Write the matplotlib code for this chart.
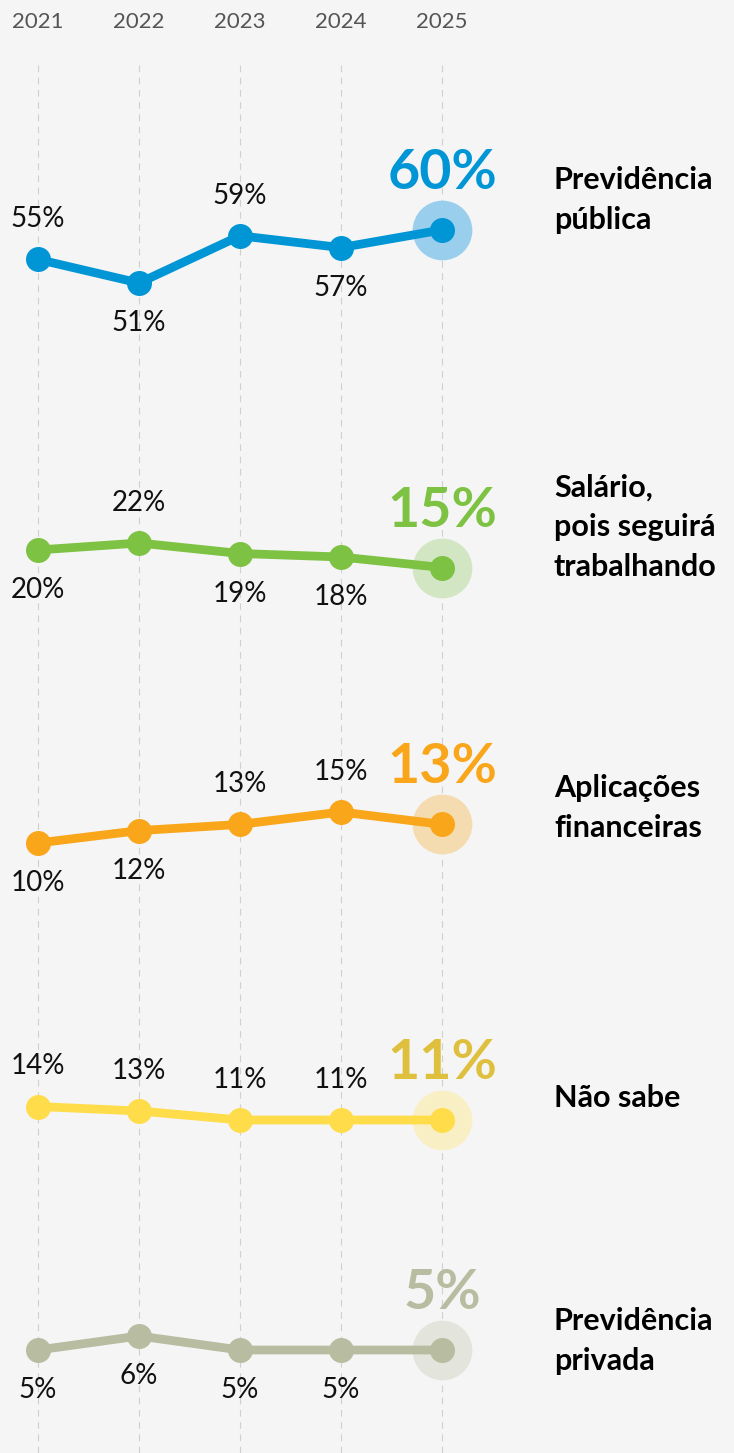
import matplotlib
matplotlib.use("Agg")
import matplotlib.pyplot as plt

# figure size in pixels
W, H = 734, 1453
DPI = 100

years = [2021, 2022, 2023, 2024, 2025]
categories = ["Previdência\npública",
              "Salário,\npois seguirá\ntrabalhando",
              "Aplicações\nfinanceiras",
              "Não sabe",
              "Previdência\nprivada"]
prev_publica = [55, 51, 59, 57, 60]
salario = [20, 22, 19, 18, 15]
aplicacoes = [10, 12, 13, 15, 13]
nao_sabe = [14, 13, 11, 11, 11]
prev_privada = [5, 6, 5, 5, 5]
series = [prev_publica, salario, aplicacoes, nao_sabe, prev_privada]

# styling per series
line_colors = ["#0096d6", "#7dc242", "#f9a61a", "#ffdd4a", "#b8bca0"]
halo_colors = ["#99cfec", "#d3e6c3", "#f5dcb0", "#f8efc4", "#e3e4db"]
big_colors = ["#0096d6", "#7dc242", "#f9a61a", "#dfc03e", "#b8bca0"]
# 1 = value label above the point, -1 = below (last point uses the big label)
sides = [[1, -1, 1, -1], [-1, 1, -1, -1], [-1, -1, 1, 1], [1, 1, 1, 1], [-1, -1, -1, -1]]
# vertical placement: (anchor value, anchor pixel row, pixels per point)
bands = [(51, 283, 5.9), (18, 557, 3.5), (10, 843, 6.2), (11, 1120, 4.5), (5, 1350, 14)]
# vertical centre of the category names (pixel rows)
cat_rows = [200, 527, 808, 1098, 1341]

FONT = "Lato"
BG = "#f5f5f5"
plt.rcParams["font.family"] = [FONT, "DejaVu Sans"]

fig = plt.figure(figsize=(W / DPI, H / DPI), dpi=DPI)
fig.patch.set_facecolor(BG)

# x axis: 2021 at px 38, one year every 101 px
x0 = years[0] - 38 / 101
x1 = years[0] + (W - 38) / 101

base = fig.add_axes([0, 0, 1, 1])
base.set_xlim(x0, x1)
base.set_ylim(H, 0)
base.axis("off")
for yr in years:
    base.plot([yr, yr], [65, H], color="#d0d0d0", lw=0.8, ls=(0, (6, 5)), zorder=0)
    base.text(yr, 22, str(yr), ha="center", va="center", fontsize=16, color="#555555")

for i, vals in enumerate(series):
    v0, y0, k = bands[i]
    ax = fig.add_axes([0, 0, 1, 1])
    ax.set_xlim(x0, x1)
    ax.set_ylim(v0 - (H - y0) / k, v0 + y0 / k)
    ax.axis("off")
    ax.patch.set_alpha(0)

    ax.plot(years, vals, color=line_colors[i], lw=6.3, solid_capstyle="round", zorder=2)
    ax.plot(years[-1], vals[-1], "o", ms=43, color=halo_colors[i], mec="none", zorder=1)
    ax.plot(years, vals, "o", ms=18, color=line_colors[i], mec="none", zorder=3)

    for j in range(len(years) - 1):
        ax.annotate(f"{vals[j]}%", (years[j], vals[j]), xytext=(0, 29 * sides[i][j]),
                    textcoords="offset points", ha="center", va="center",
                    fontsize=20, color="#111111")
    ax.annotate(f"{vals[-1]}%", (years[-1], vals[-1]), xytext=(0, 41),
                textcoords="offset points", ha="center", va="center",
                fontsize=40, fontweight="bold", color=big_colors[i])

    fig.text(554 / W, 1 - cat_rows[i] / H, categories[i], ha="left", va="center",
             fontsize=22, fontweight="bold", color="#000000", linespacing=1.5)

fig.savefig("out.png", dpi=DPI, facecolor=BG)
